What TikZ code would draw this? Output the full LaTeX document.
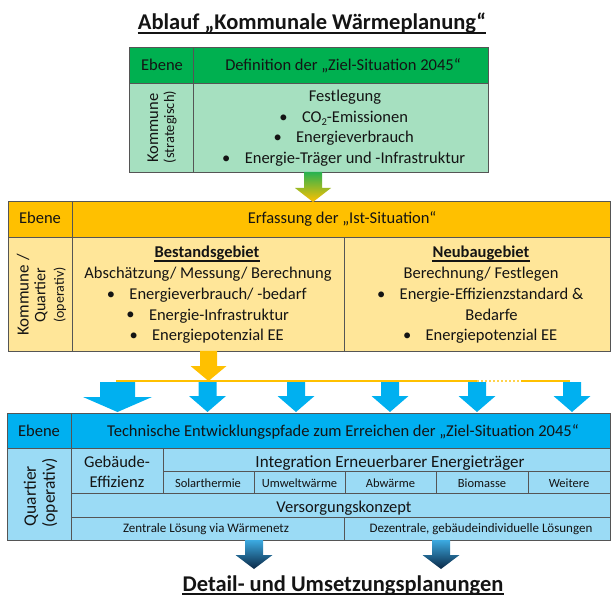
\documentclass[tikz,border=0pt]{standalone}
\usepackage{fontspec}
\setmainfont{Carlito}
\definecolor{greenH}{RGB}{0,176,80}
\definecolor{greenB}{RGB}{166,224,192}
\definecolor{greenA}{RGB}{40,178,80}
\definecolor{orangeH}{RGB}{255,192,0}
\definecolor{orangeB}{RGB}{255,230,153}
\definecolor{blueH}{RGB}{0,176,240}
\definecolor{blueB}{RGB}{155,219,245}
\definecolor{blueT}{RGB}{60,170,225}
\definecolor{blueD}{RGB}{10,40,70}
\definecolor{linecol}{RGB}{85,85,85}
\definecolor{txtcol}{RGB}{20,20,20}
\newcommand\cellbox[6]{%
  \node[cellst, fill=#6, minimum width={(#4)-(#2)}, minimum height={(#5)-(#3)}]
    (#1) at ({((#2)+(#4))/2},{((#3)+(#5))/2}) {};}
\newcommand\dnarrow[7]{%
  \path[#1] ({#2-#6},#3) -- ({#2+#6},#3) -- ({#2+#6},#4) -- ({#2+#7},#4)
    -- (#2,#5) -- ({#2-#7},#4) -- ({#2-#6},#4) -- cycle;}
\begin{document}
\begin{tikzpicture}[x=1pt,y=-1pt,
  cellst/.style={draw=linecol, line width=0.8pt, inner sep=0pt, outer sep=0pt},
  t/.style={inner sep=0pt, anchor=base, text=txtcol, font=\fontsize{16.5}{20}\selectfont},
  tb/.style={t, font=\fontsize{16.5}{20}\selectfont\bfseries},
  ts/.style={t, font=\fontsize{12.5}{15}\selectfont},
  tz/.style={t, font=\fontsize{13}{15}\selectfont},
  ttl/.style={inner sep=0pt, anchor=base, text=txtcol, font=\fontsize{22.5}{27}\selectfont\bfseries},
  rot/.style={inner sep=0pt, anchor=center, rotate=90, text=txtcol},
  bul/.style={label={[inner sep=0pt, label distance=14pt, text=txtcol, font=\fontsize{16.5}{20}\selectfont]180:\textbullet}},
  yline/.style={draw=orangeH, line width=2.5pt},
  ulinest/.style={draw=txtcol}
]
\useasboundingbox (0,0) rectangle (611,596);

% ---------- Title ----------
\node[ttl] (title) at (312,30) {Ablauf „Kommunale Wärmeplanung“};
\draw[ulinest, line width=1.6pt] ([yshift=-3pt]title.base west) -- ([yshift=-3pt]title.base east);

% ---------- Green table ----------
\cellbox{gE}{129}{47}{193}{83}{greenH}
\cellbox{gD}{193}{47}{488}{83}{greenH}
\cellbox{gK}{129}{83}{193}{172}{greenB}
\cellbox{gB}{193}{83}{488}{172}{greenB}
\node[t] (gEt) at (162,71) {Ebene};
\node[t] (gDt) at (343,71) {Definition der „Ziel-Situation 2045“};
\node[rot, font=\fontsize{16.5}{20}\selectfont] (gK1) at (153,128) {Kommune};
\node[rot, font=\fontsize{14.5}{18}\selectfont] (gK2) at (170,127) {(strategisch)};
\node[t] (g1) at (345,102) {Festlegung};
\node[t, bul] (g2) at (355,123) {CO\raisebox{-2.5pt}{\fontsize{10.5}{12}\selectfont 2}-Emissionen};
\node[t, bul] (g3) at (355,143) {Energieverbrauch};
\node[t, bul] (g4) at (355,164) {Energie-Träger und -Infrastruktur};

% ---------- Orange table ----------
\cellbox{oE}{8}{201}{72}{237}{orangeH}
\cellbox{oD}{72}{201}{610}{237}{orangeH}
\cellbox{oK}{8}{237}{72}{351}{orangeB}
\cellbox{oL}{72}{237}{344}{351}{orangeB}
\cellbox{oR}{344}{237}{610}{351}{orangeB}
\node[t] (oEt) at (40,224) {Ebene};
\node[t] (oDt) at (342,224) {Erfassung der „Ist-Situation“};
\node[rot, font=\fontsize{17}{20}\selectfont] (oK1) at (23,295) {Kommune /};
\node[rot, font=\fontsize{16}{20}\selectfont] (oK2) at (41,295) {Quartier};
\node[rot, font=\fontsize{14}{18}\selectfont] (oK3) at (60,295) {(operativ)};
\node[tb] (oL0) at (207,258) {Bestandsgebiet};
\draw[ulinest, line width=1.1pt] ([yshift=-3pt]oL0.base west) -- ([yshift=-3pt]oL0.base east);
\node[t] (oL1) at (208,279) {Abschätzung/ Messung/ Berechnung};
\node[t, bul] (oL2) at (218,300) {Energieverbrauch/ -bedarf};
\node[t, bul] (oL3) at (219,320) {Energie-Infrastruktur};
\node[t, bul] (oL4) at (218,341) {Energiepotenzial EE};
\node[tb] (oR0) at (481,258) {Neubaugebiet};
\draw[ulinest, line width=1.1pt] ([yshift=-3pt]oR0.base west) -- ([yshift=-3pt]oR0.base east);
\node[t] (oR1) at (481,279) {Berechnung/ Festlegen};
\node[t, bul] (oR2) at (491.5,300) {Energie-Effizienzstandard \&};
\node[t] (oR3) at (491.5,320) {Bedarfe};
\node[t, bul] (oR4) at (491.5,341) {Energiepotenzial EE};

% ---------- Arrow green -> orange ----------
\dnarrow{shade, top color=greenA, bottom color=orangeH}{313}{172}{188}{202}{9}{18}

% ---------- Blue arrows ----------
\dnarrow{fill=blueH}{117.5}{382}{397}{412}{17.5}{34.5}
\dnarrow{fill=blueH}{207.5}{382}{396}{412}{9}{18.5}
\dnarrow{fill=blueH}{296}{382}{396}{412}{9}{18.5}
\dnarrow{fill=blueH}{390}{382}{396}{412}{9}{18.5}
\dnarrow{fill=blueH}{477}{382}{396}{412}{9}{18.5}
\dnarrow{fill=blueH}{572}{382}{396}{412}{9}{18.5}

% ---------- Yellow distribution line ----------
\coordinate (yl0) at (116,381);
\coordinate (yl1) at (477,381);
\coordinate (yl2) at (521,381);
\coordinate (yl3) at (570,381);
\draw[yline] (yl0) -- (yl1);
\draw[yline, draw=orangeH!70, line width=2pt, dash pattern=on 2pt off 2pt] (yl1) -- (yl2);
\draw[yline] (yl2) -- (yl3);

% ---------- Yellow arrow ----------
\dnarrow{fill=orangeH}{208.5}{351}{366}{381}{8.5}{18}

% ---------- Blue table ----------
\cellbox{bE}{7}{413}{71}{448}{blueH}
\cellbox{bD}{71}{413}{610}{448}{blueH}
\cellbox{bQ}{7}{448}{71}{540}{blueB}
\cellbox{bG}{71}{448}{163}{493}{blueB}
\cellbox{bI}{163}{448}{610}{471}{blueB}
\cellbox{s1}{163}{471}{254}{493}{blueB}
\cellbox{s2}{254}{471}{345}{493}{blueB}
\cellbox{s3}{345}{471}{436}{493}{blueB}
\cellbox{s4}{436}{471}{528}{493}{blueB}
\cellbox{s5}{528}{471}{610}{493}{blueB}
\cellbox{bV}{71}{493}{610}{517}{blueB}
\cellbox{bZ}{71}{517}{344}{540}{blueB}
\cellbox{bX}{344}{517}{610}{540}{blueB}
\node[t] (bEt) at (39,436) {Ebene};
\node[t] (bDt) at (343,436) {Technische Entwicklungspfade zum Erreichen der „Ziel-Situation 2045“};
\node[rot, font=\fontsize{17.5}{20}\selectfont] (bQ1) at (31,496) {Quartier};
\node[rot, font=\fontsize{17.5}{20}\selectfont] (bQ2) at (50,493) {(operativ)};
\node[t] (bG1) at (117,467) {Gebäude-};
\node[t] (bG2) at (117,487) {Effizienz};
\node[t, font=\fontsize{17}{20}\selectfont] (bIt) at (390,467) {Integration Erneuerbarer Energieträger};
\node[ts] (s1t) at (208,487) {Solarthermie};
\node[ts] (s2t) at (299.5,487) {Umweltwärme};
\node[ts] (s3t) at (390.5,487) {Abwärme};
\node[ts] (s4t) at (482,487) {Biomasse};
\node[ts] (s5t) at (569,487) {Weitere};
\node[t] (bVt) at (344,512) {Versorgungskonzept};
\node[tz] (bZt) at (206,532) {Zentrale Lösung via Wärmenetz};
\node[tz] (bXt) at (481,532) {Dezentrale, gebäudeindividuelle Lösungen};

% ---------- Bottom arrows ----------
\dnarrow{shade, top color=blueT, bottom color=blueD}{254}{540}{555}{569}{9}{18.5}
\dnarrow{shade, top color=blueT, bottom color=blueD}{441}{540}{555}{569}{9}{18.5}

% ---------- Bottom title ----------
\node[ttl] (btitle) at (343,591) {Detail- und Umsetzungsplanungen};
\draw[ulinest, line width=1.6pt] ([yshift=-3pt]btitle.base west) -- ([yshift=-3pt]btitle.base east);
\end{tikzpicture}
\end{document}
